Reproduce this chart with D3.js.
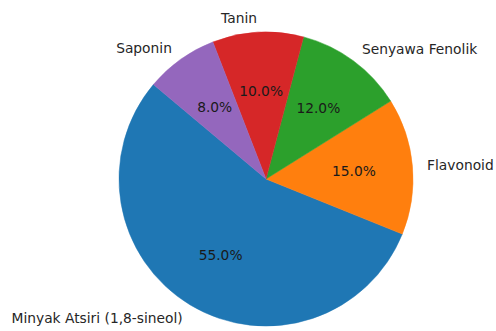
<!DOCTYPE html>
<html><head><meta charset="utf-8">
<script src="https://cdn.jsdelivr.net/npm/d3@7/dist/d3.min.js"></script>
<style>html,body{margin:0;padding:0;background:#fff;}svg{display:block;}</style>
</head><body>
<svg id="c" width="496" height="331"></svg>
<script>
const categories = ["Minyak Atsiri (1,8-sineol)", "Flavonoid", "Senyawa Fenolik", "Tanin", "Saponin"];
const values = [55, 15, 12, 10, 8];
const colors = ["#1f77b4", "#ff7f0e", "#2ca02c", "#d62728", "#9467bd"];

const W = 496, H = 331, cx = 266, cy = 179, R = 147;
const svg = d3.select("#c");
const g = svg.append("g").attr("transform", `translate(${cx},${cy})`);

const start = (90 - 140) * Math.PI / 180;
const pie = d3.pie().sort(null).value(d => d.v).startAngle(start).endAngle(start - 2 * Math.PI);
const data = pie(categories.map((c, i) => ({c, v: values[i], col: colors[i]})));

const arc = d3.arc().innerRadius(0).outerRadius(R);
g.selectAll("path.s").data(data).join("path").attr("class", "s")
  .attr("d", arc).attr("fill", d => d.data.col).attr("stroke", d => d.data.col).attr("stroke-width", 0.5);

const lab = d3.arc().innerRadius(R * 1.1).outerRadius(R * 1.1);
const pct = d3.arc().innerRadius(R * 0.6).outerRadius(R * 0.6);
const total = d3.sum(values);

g.selectAll("text.l").data(data).join("text").attr("class", "l")
  .attr("x", d => lab.centroid(d)[0]).attr("y", d => lab.centroid(d)[1])
  .attr("text-anchor", d => lab.centroid(d)[0] < 0 ? "end" : "start")
  .attr("dominant-baseline", "central")
  .attr("font-family", "DejaVu Sans").attr("font-size", 13.8).attr("fill", "#262626")
  .text(d => d.data.c);

g.selectAll("text.p").data(data).join("text").attr("class", "p")
  .attr("x", d => pct.centroid(d)[0]).attr("y", d => pct.centroid(d)[1])
  .attr("text-anchor", "middle").attr("dominant-baseline", "central")
  .attr("font-family", "DejaVu Sans").attr("font-size", 13.8).attr("fill", "#1a1a1a")
  .text(d => (d.data.v / total * 100).toFixed(1) + "%");
</script>
</body></html>
